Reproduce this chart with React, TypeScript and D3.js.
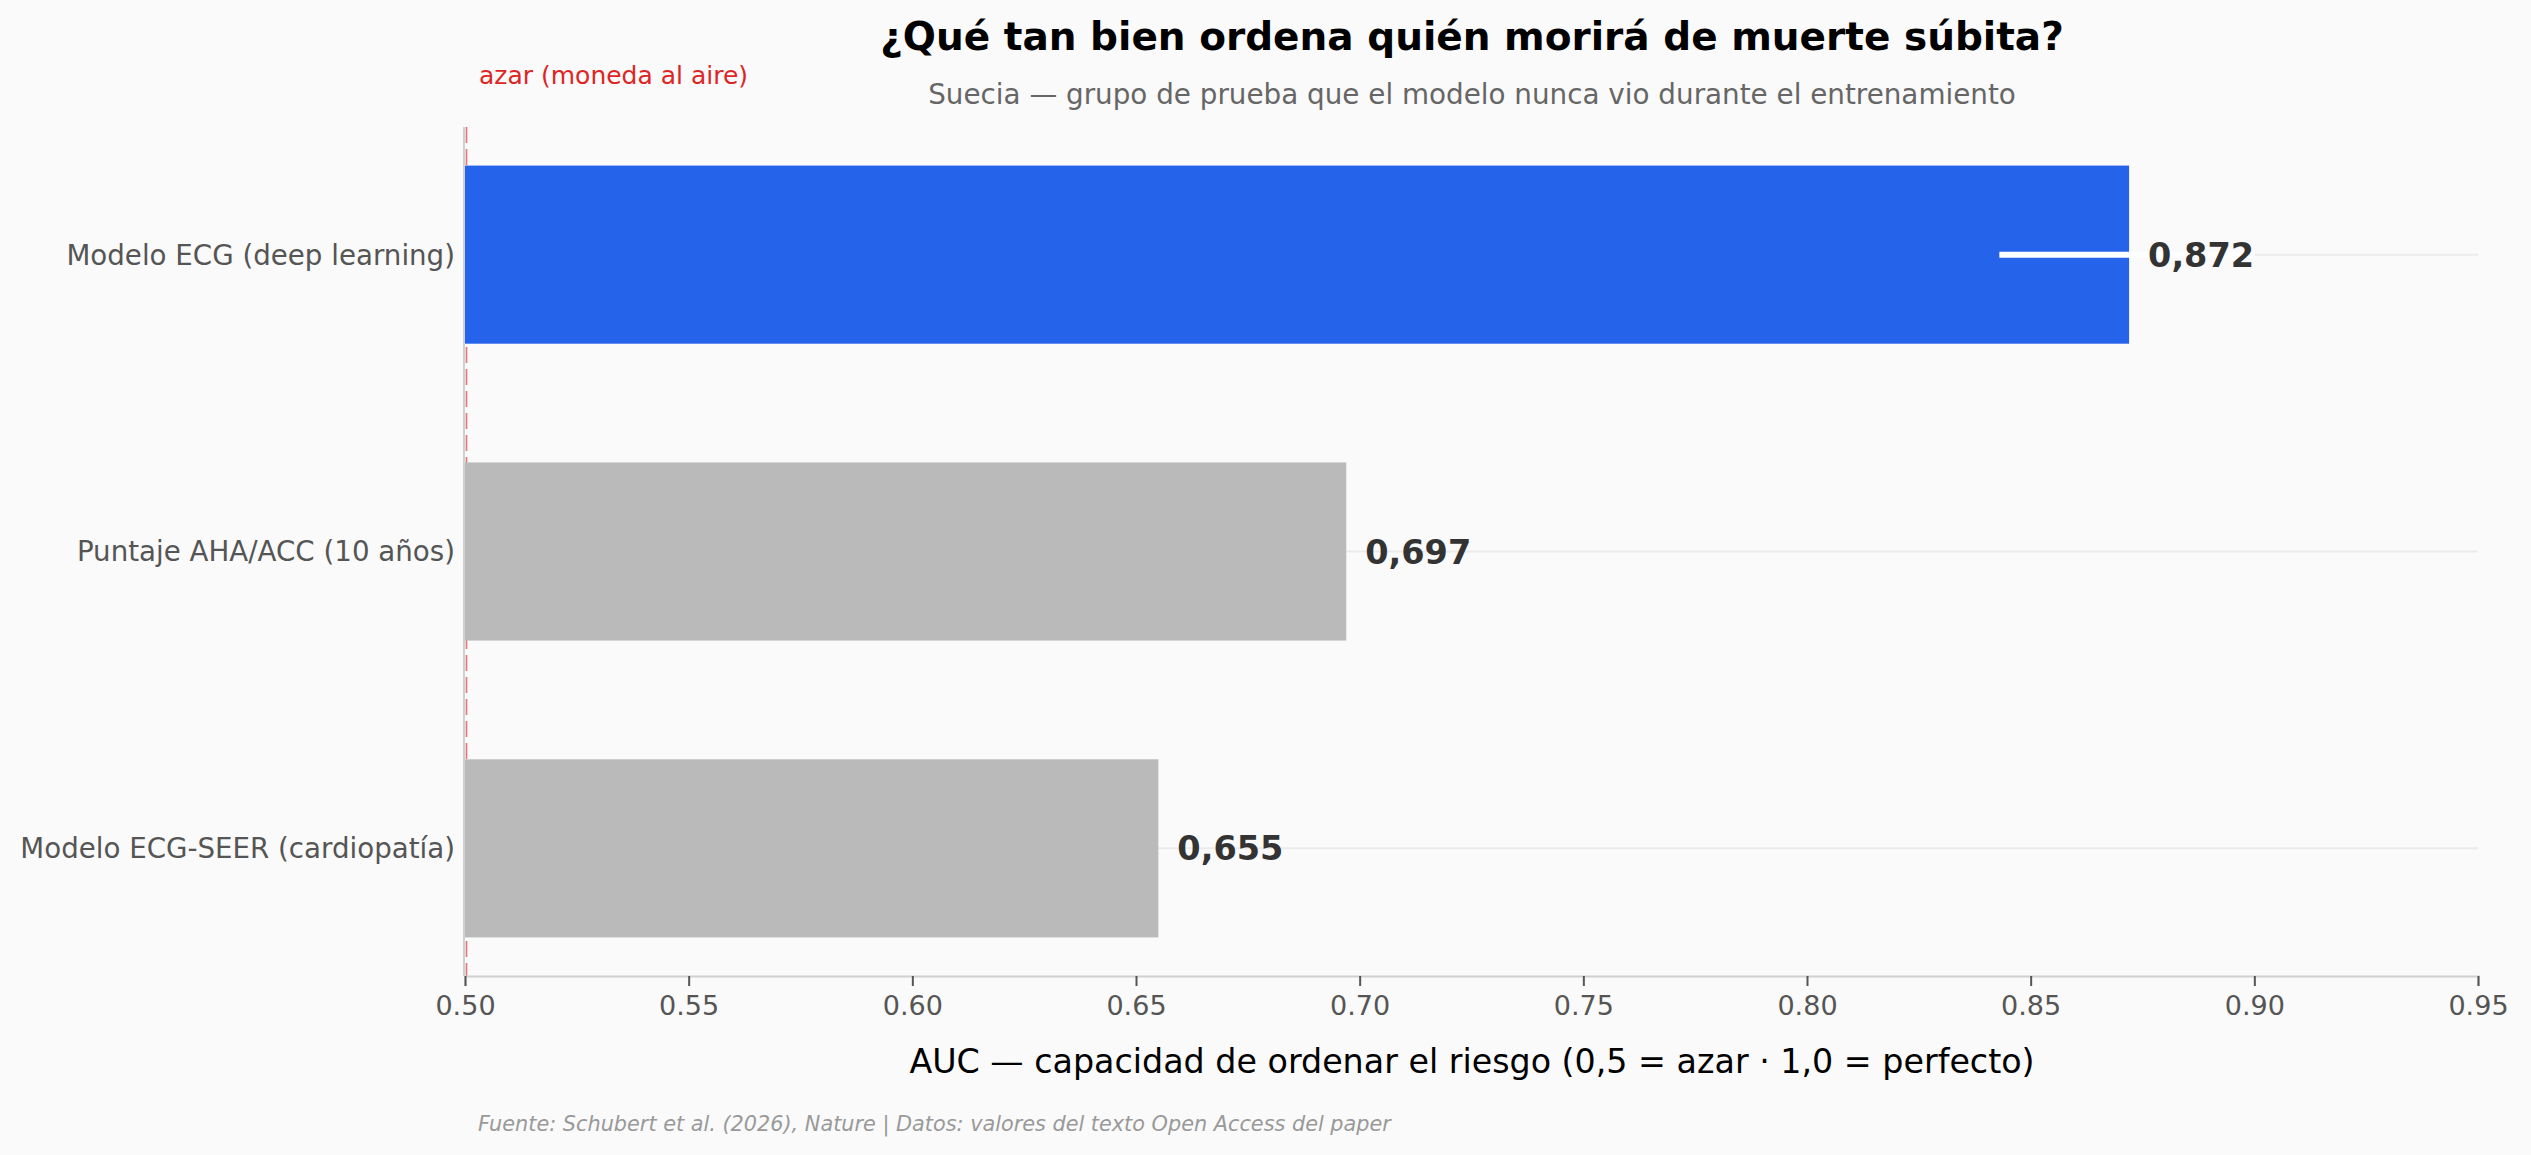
import { useRef, useEffect } from 'react';
import * as d3 from 'd3';

// datos del gráfico
const categories = ['Modelo ECG (deep learning)', 'Puntaje AHA/ACC (10 años)', 'Modelo ECG-SEER (cardiopatía)'];
const aucValues = [0.872, 0.697, 0.655];
const barColors = ['#2563eb', '#bababa', '#bababa'];
const ciLow = [0.843, null, null];
const ciHigh = [0.900, null, null];
const xTicks = [0.5, 0.55, 0.6, 0.65, 0.7, 0.75, 0.8, 0.85, 0.9, 0.95];

const W = 2531;
const H = 1155;
const FONT = '"DejaVu Sans", sans-serif';

export default function App() {
    const svgRef = useRef<SVGSVGElement>(null);

    useEffect(() => {
        document.body.style.margin = '0';
        document.body.style.background = '#fafafa';

        const margin = { top: 127, right: W - 2478, bottom: H - 976, left: 465 };
        const svg = d3.select(svgRef.current)
            .attr('width', W)
            .attr('height', H)
            .html('');

        svg.append('rect').attr('width', W).attr('height', H).attr('fill', '#fafafa');

        const x = d3.scaleLinear()
            .domain([0.5, 0.95])
            .range([margin.left, W - margin.right]);

        const y = d3.scaleBand<string>()
            .domain(categories)
            .range([margin.top, H - margin.bottom])
            .paddingInner(0.4)
            .paddingOuter(0.13);

        const rows = categories.map((c, i) => ({
            cat: c, value: aucValues[i], color: barColors[i], lo: ciLow[i], hi: ciHigh[i]
        }));

        // líneas guía horizontales
        svg.append('g')
            .selectAll('line')
            .data(rows)
            .enter()
            .append('line')
            .attr('x1', x(0.5))
            .attr('x2', x(0.95))
            .attr('y1', d => y(d.cat)! + y.bandwidth() / 2)
            .attr('y2', d => y(d.cat)! + y.bandwidth() / 2)
            .attr('stroke', '#ebebeb')
            .attr('stroke-width', 2);

        // línea de azar
        svg.append('line')
            .attr('x1', x(0.5) + 1.5)
            .attr('x2', x(0.5) + 1.5)
            .attr('y1', margin.top)
            .attr('y2', H - margin.bottom)
            .attr('stroke', '#e35b5b')
            .attr('stroke-opacity', 0.85)
            .attr('stroke-width', 1.6)
            .attr('stroke-dasharray', '16,6');

        // barras
        svg.append('g')
            .selectAll('rect')
            .data(rows)
            .enter()
            .append('rect')
            .attr('x', x(0.5))
            .attr('y', d => y(d.cat)!)
            .attr('width', d => x(d.value) - x(0.5))
            .attr('height', y.bandwidth())
            .attr('fill', d => d.color);

        // intervalo de confianza
        svg.append('g')
            .selectAll('line')
            .data(rows.filter(d => d.lo != null))
            .enter()
            .append('line')
            .attr('x1', d => x(d.lo as number))
            .attr('x2', d => x(d.hi as number))
            .attr('y1', d => y(d.cat)! + y.bandwidth() / 2)
            .attr('y2', d => y(d.cat)! + y.bandwidth() / 2)
            .attr('stroke', '#ffffff')
            .attr('stroke-width', 6);

        // valores
        svg.append('g')
            .selectAll('text')
            .data(rows)
            .enter()
            .append('text')
            .attr('x', d => x(d.value) + 19)
            .attr('y', d => y(d.cat)! + y.bandwidth() / 2)
            .attr('dy', '0.36em')
            .attr('font-family', FONT)
            .attr('font-size', 33.5)
            .attr('font-weight', 'bold')
            .attr('fill', '#333333')
            .text(d => d.value.toFixed(3).replace('.', ','));

        // etiquetas del eje y
        svg.append('g')
            .selectAll('text')
            .data(rows)
            .enter()
            .append('text')
            .attr('x', margin.left - 10)
            .attr('y', d => y(d.cat)! + y.bandwidth() / 2)
            .attr('dy', '0.36em')
            .attr('text-anchor', 'end')
            .attr('font-family', FONT)
            .attr('font-size', 27.7)
            .attr('fill', '#555555')
            .text(d => d.cat);

        // eje izquierdo
        svg.append('line')
            .attr('x1', margin.left - 1)
            .attr('x2', margin.left - 1)
            .attr('y1', margin.top)
            .attr('y2', H - margin.bottom)
            .attr('stroke', '#d0d0d0')
            .attr('stroke-width', 2);

        // eje x
        const xAxis = d3.axisBottom(x)
            .tickValues(xTicks)
            .tickFormat(d3.format('.2f'))
            .tickSize(10)
            .tickPadding(10);

        const gx = svg.append('g')
            .attr('transform', `translate(0, ${H - margin.bottom})`)
            .call(xAxis);
        gx.select('.domain').attr('stroke', '#d0d0d0').attr('stroke-width', 2.2);
        gx.selectAll('.tick line').attr('stroke', '#555555').attr('stroke-width', 2);
        gx.selectAll('.tick text')
            .attr('font-family', FONT)
            .attr('font-size', 27)
            .attr('fill', '#555555');

        // título
        svg.append('text')
            .attr('x', 1472)
            .attr('y', 50)
            .attr('text-anchor', 'middle')
            .attr('font-family', FONT)
            .attr('font-size', 39)
            .attr('font-weight', 'bold')
            .attr('fill', '#000')
            .text('¿Qué tan bien ordena quién morirá de muerte súbita?');

        svg.append('text')
            .attr('x', 1472)
            .attr('y', 104)
            .attr('text-anchor', 'middle')
            .attr('font-family', FONT)
            .attr('font-size', 27.8)
            .attr('fill', '#666666')
            .text('Suecia — grupo de prueba que el modelo nunca vio durante el entrenamiento');

        svg.append('text')
            .attr('x', x(0.5) + 14)
            .attr('y', 84)
            .attr('font-family', FONT)
            .attr('font-size', 25)
            .attr('fill', '#dc2626')
            .text('azar (moneda al aire)');

        svg.append('text')
            .attr('x', 1472)
            .attr('y', 1073)
            .attr('text-anchor', 'middle')
            .attr('font-family', FONT)
            .attr('font-size', 33.3)
            .attr('fill', '#000')
            .text('AUC — capacidad de ordenar el riesgo (0,5 = azar · 1,0 = perfecto)');

        svg.append('text')
            .attr('x', 478)
            .attr('y', 1131)
            .attr('font-family', FONT)
            .attr('font-size', 20.8)
            .attr('font-style', 'italic')
            .attr('fill', '#999999')
            .text('Fuente: Schubert et al. (2026), Nature | Datos: valores del texto Open Access del paper');
    }, []);

    return <svg ref={svgRef} style={{ display: 'block' }}></svg>;
}
